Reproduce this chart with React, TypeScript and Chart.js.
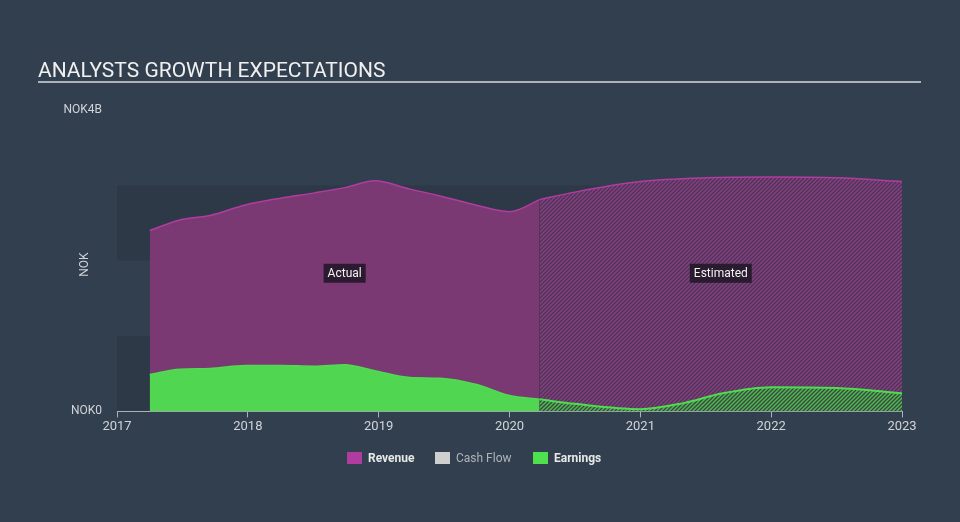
import React, { useEffect, useRef } from "react";
import { Chart, registerables } from "chart.js";

Chart.register(...registerables);

// ---- data (NOK, billions) ----
const actualYears = [2017.25, 2017.48, 2017.71, 2017.98, 2018.25, 2018.51, 2018.74, 2018.97, 2019.24, 2019.47, 2019.74, 2020.0, 2020.23];
const revenueActual = [2.40, 2.54, 2.60, 2.74, 2.83, 2.90, 2.97, 3.06, 2.95, 2.86, 2.74, 2.65, 2.81];
const earningsActual = [0.49, 0.56, 0.57, 0.61, 0.61, 0.60, 0.62, 0.54, 0.45, 0.44, 0.36, 0.21, 0.16];

const revenueEstYears = [2020.23, 2020.5, 2021.0, 2021.5, 2022.0, 2022.5, 2023.0];
const revenueEstimated = [2.81, 2.91, 3.05, 3.10, 3.11, 3.10, 3.05];

const earningsEstYears = [2020.23, 2020.5, 2021.0, 2021.33, 2021.63, 2022.0, 2022.5, 2023.0];
const earningsEstimated = [0.16, 0.10, 0.03, 0.11, 0.24, 0.32, 0.31, 0.24];

const xTicks = [2017, 2018, 2019, 2020, 2021, 2022, 2023];
const yTopLabel = "NOK4B";
const yBottomLabel = "NOK0";
const yMax = 4;
const bands: [number, number][] = [[0, 1], [2, 3]];

const legendItems = [
  { label: "Revenue", color: "#b13c9f", text: "#e8e8e8" },
  { label: "Cash Flow", color: "#cfcfcf", text: "#aeb4ba" },
  { label: "Earnings", color: "#4fe04f", text: "#e8e8e8" },
];

const BG = "#323f4f";
const REV_LINE = "#b13c9f";
const REV_FILL = "#7b3973";
const EARN_LINE = "#4fdc4f";
const EARN_FILL = "#51d651";

function makePattern(bg: string, stripe: string) {
  const c = document.createElement("canvas");
  c.width = 4;
  c.height = 4;
  const g = c.getContext("2d")!;
  g.fillStyle = bg;
  g.fillRect(0, 0, 4, 4);
  g.strokeStyle = stripe;
  g.lineWidth = 1.5;
  g.beginPath();
  g.moveTo(-1, 5);
  g.lineTo(5, -1);
  g.moveTo(-1, 1);
  g.lineTo(1, -1);
  g.moveTo(3, 5);
  g.lineTo(5, 3);
  g.stroke();
  const ctx = document.createElement("canvas").getContext("2d")!;
  return ctx.createPattern(c, "repeat")!;
}

const pts = (xs: number[], ys: number[]) => xs.map((x, i) => ({ x, y: ys[i] }));

export default function App() {
  const ref = useRef<HTMLCanvasElement>(null);

  useEffect(() => {
    document.body.style.margin = "0";
    document.body.style.background = BG;
    const revPattern = makePattern("#4b3557", "#873f80");
    const earnPattern = makePattern("#36483f", "#52b852");

    const decor = {
      id: "decor",
      beforeDraw(chart: any) {
        const { ctx, chartArea, scales } = chart;
        const y = scales.y;
        ctx.save();
        ctx.fillStyle = BG;
        ctx.fillRect(0, 0, chart.width, chart.height);
        ctx.fillStyle = "rgba(0,0,0,0.09)";
        for (const [a, b] of bands) {
          const t = y.getPixelForValue(b);
          const btm = y.getPixelForValue(a);
          ctx.fillRect(chartArea.left, t, chartArea.right - chartArea.left, btm - t);
        }
        // title
        ctx.fillStyle = "#f0f0f0";
        ctx.font = "21px Roboto";
        ctx.textBaseline = "alphabetic";
        ctx.textAlign = "left";
        ctx.fillText("ANALYSTS GROWTH EXPECTATIONS", 38, 77);
        ctx.fillStyle = "#aab2ba";
        ctx.fillRect(38, 81, 883, 2);
        // y labels
        ctx.fillStyle = "#d0d4d8";
        ctx.font = "12px Roboto";
        ctx.textAlign = "right";
        ctx.textBaseline = "middle";
        ctx.fillText(yTopLabel, 102, y.getPixelForValue(yMax));
        ctx.fillText(yBottomLabel, 102, y.getPixelForValue(0));
        ctx.save();
        ctx.translate(85, (y.getPixelForValue(0) + y.getPixelForValue(yMax)) / 2 + 4);
        ctx.rotate(-Math.PI / 2);
        ctx.textAlign = "center";
        ctx.fillText("NOK", 0, 0);
        ctx.restore();
        // legend
        ctx.textAlign = "left";
        const positions = [347, 435, 533];
        legendItems.forEach((it, i) => {
          const x = positions[i];
          ctx.fillStyle = it.color;
          ctx.fillRect(x, 452, 15, 12);
          ctx.fillStyle = it.text;
          ctx.font = i === 1 ? "12px Roboto" : "bold 12px Roboto";
          ctx.fillText(it.label, x + 21, 459);
        });
        ctx.restore();
      },
      afterDatasetsDraw(chart: any) {
        const { ctx, scales } = chart;
        const x = scales.x;
        const y = scales.y;
        const cy = y.getPixelForValue(1.84);
        const boxes = [
          { text: "Actual", cx: (x.getPixelForValue(actualYears[0]) + x.getPixelForValue(revenueEstYears[0])) / 2 },
          { text: "Estimated", cx: (x.getPixelForValue(revenueEstYears[0]) + x.getPixelForValue(revenueEstYears[revenueEstYears.length - 1])) / 2 },
        ];
        ctx.save();
        ctx.font = "12px Roboto";
        ctx.textAlign = "center";
        ctx.textBaseline = "middle";
        for (const b of boxes) {
          const w = ctx.measureText(b.text).width + 8;
          ctx.fillStyle = "rgba(30,22,36,0.85)";
          ctx.fillRect(b.cx - w / 2, cy - 9, w, 19);
          ctx.fillStyle = "#f2f2f2";
          ctx.fillText(b.text, b.cx, cy + 1);
        }
        ctx.restore();
      },
    };

    const chart = new Chart(ref.current!, {
      type: "line",
      data: {
        datasets: [
          {
            label: "Earnings",
            data: pts(actualYears, earningsActual),
            borderColor: EARN_LINE,
            backgroundColor: EARN_FILL,
            fill: "origin",
            borderWidth: 1.5,
            pointRadius: 0,
            cubicInterpolationMode: "monotone",
          },
          {
            label: "Earnings (est)",
            data: pts(earningsEstYears, earningsEstimated),
            borderColor: EARN_LINE,
            backgroundColor: earnPattern,
            fill: "origin",
            borderWidth: 2,
            pointRadius: 0,
            cubicInterpolationMode: "monotone",
          },
          {
            label: "Revenue",
            data: pts(actualYears, revenueActual),
            borderColor: REV_LINE,
            backgroundColor: REV_FILL,
            fill: "origin",
            borderWidth: 1.5,
            pointRadius: 0,
            cubicInterpolationMode: "monotone",
          },
          {
            label: "Revenue (est)",
            data: pts(revenueEstYears, revenueEstimated),
            borderColor: REV_LINE,
            backgroundColor: revPattern,
            fill: "origin",
            borderWidth: 1.5,
            pointRadius: 0,
            cubicInterpolationMode: "monotone",
          },
        ],
      } as any,
      options: {
        responsive: false,
        animation: false,
        layout: { padding: { left: 117, right: 58, top: 110, bottom: 85 } },
        plugins: { legend: { display: false }, tooltip: { enabled: false } },
        scales: {
          x: {
            type: "linear",
            min: xTicks[0],
            max: xTicks[xTicks.length - 1],
            afterBuildTicks: (s: any) => {
              s.ticks = xTicks.map((v) => ({ value: v }));
            },
            ticks: {
              color: "#d0d4d8",
              font: { family: "Roboto", size: 13 },
              padding: 2,
              maxRotation: 0,
              callback: (v: any) => String(v),
            },
            grid: { drawOnChartArea: false, drawTicks: true, tickLength: 6, color: "#aab2ba" },
            border: { display: true, color: "#aab2ba" },
          },
          y: {
            display: false,
            min: 0,
            max: yMax,
          },
        },
      } as any,
      plugins: [decor],
    });
    return () => chart.destroy();
  }, []);

  return (
    <div style={{ position: "absolute", left: 0, top: 0, width: 960, height: 522 }}>
      <canvas ref={ref} width={960} height={522} />
    </div>
  );
}
